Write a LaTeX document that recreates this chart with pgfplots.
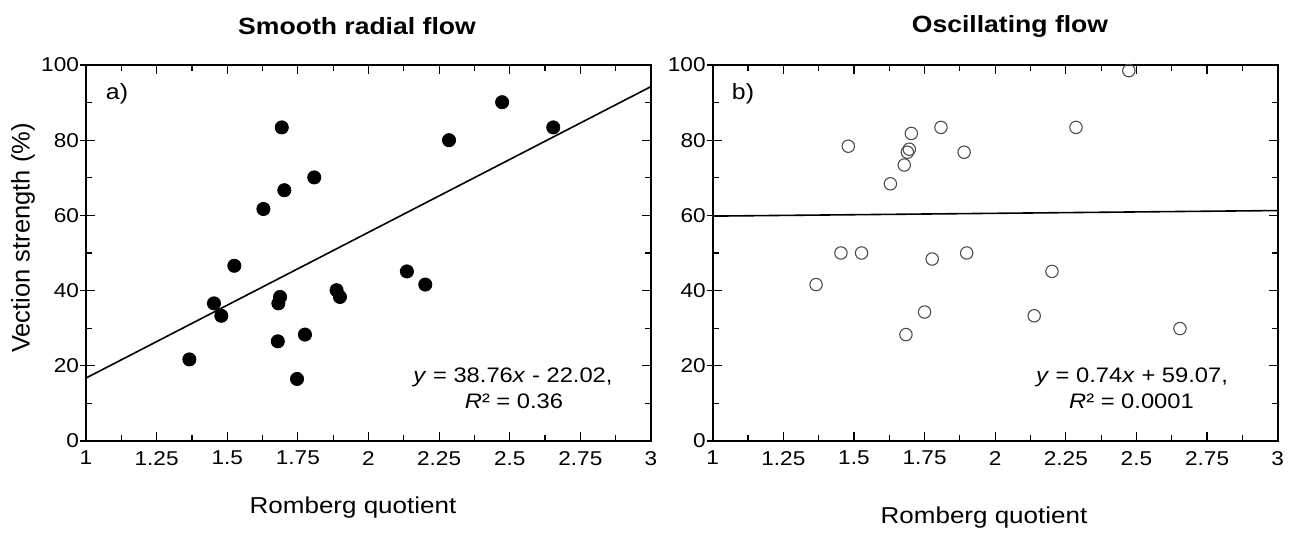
\documentclass[border=0pt]{standalone}
\usepackage{fontspec}
\setmainfont{Liberation Sans}[FakeStretch=1.13]
\newfontfamily\ylabfont{Liberation Sans}
\usepackage{pgfplots}
\pgfplotsset{compat=1.18}
\pgfplotstableread{
x y
1.366 21.7
1.453 36.6
1.479 33.3
1.525 46.6
1.628 61.7
1.693 83.4
1.702 66.7
1.808 70.1
1.687 38.3
1.681 36.6
1.679 26.5
1.775 28.3
1.747 16.5
1.887 40.1
1.899 38.3
2.136 45.1
2.201 41.6
2.285 80.0
2.473 90.1
2.654 83.4
}\smoothdata
\pgfplotstableread{
x y
1.366 41.6
1.454 50.0
1.527 50.0
1.480 78.4
1.629 68.4
1.678 73.4
1.689 76.8
1.696 77.6
1.703 81.8
1.808 83.4
1.890 76.8
1.777 48.4
1.750 34.3
1.684 28.3
1.899 50.0
2.138 33.3
2.201 45.1
2.286 83.4
2.473 98.5
2.654 29.9
}\oscdata
\pgfplotsset{
  panel/.style={
    width=282.5pt, height=188pt, scale only axis,
    xmin=1, xmax=3, ymin=0, ymax=100,
    xtick={1,1.25,...,3}, ytick={0,20,...,100},
    xticklabels={1,1.25,1.5,1.75,2,2.25,2.5,2.75,3},
    minor x tick num=1, minor y tick num=1,
    tick align=inside,
    major tick length=4.5pt, minor tick length=3pt,
    axis line style={line width=1pt},
    every tick/.style={line width=0.6pt, black},
    tick label style={font=\fontsize{10}{12}\selectfont},
    xticklabel style={yshift=-1.5pt},
    /pgf/number format/assume math mode=true,
    clip=false,
  },
  outticks/.style={
    width=282.5pt, height=188pt, scale only axis,
    xmin=1, xmax=3, ymin=0, ymax=100,
    axis x line=none, axis y line*=left,
    axis line style={draw=none},
    ytick={0,20,...,100},
    yticklabels={,,,,,},
    minor y tick num=0,
    tick align=outside, major tick length=3pt,
    every tick/.style={line width=0.6pt, black},
  },
}
\begin{document}
\begin{tikzpicture}
\path (-43pt,-49pt) rectangle (605.5pt,220.5pt);
% left panel
\begin{axis}[panel, at={(0pt,0pt)}, anchor=origin]
\addplot[black, line width=0.8pt] coordinates {(1,16.74) (3,94.26)};
\addplot[only marks, mark=*, mark size=3.3pt, black] table[x=x,y=y] {\smoothdata};
\end{axis}
\begin{axis}[outticks, at={(0pt,0pt)}, anchor=origin]
\end{axis}
% right panel
\begin{axis}[panel, at={(313.35pt,0pt)}, anchor=origin]
\addplot[black, line width=0.8pt] coordinates {(1,59.81) (3,61.29)};
\addplot[only marks, mark=o, mark size=3.1pt, mark options={draw=black!70, line width=0.55pt, fill=white}] table[x=x,y=y] {\oscdata};
\end{axis}
\begin{axis}[outticks, at={(313.35pt,0pt)}, anchor=origin]
\end{axis}
% texts
\node[font=\bfseries\fontsize{11.75}{14}\selectfont] at (135.5pt,207.5pt) {Smooth radial flow};
\node[font=\bfseries\fontsize{11.75}{14}\selectfont] at (462pt,207.5pt) {Oscillating flow};
\node[font=\fontsize{11}{13}\selectfont] at (15.5pt,173.5pt) {a)};
\node[font=\fontsize{11}{13}\selectfont] at (328.5pt,173.5pt) {b)};
\node[font=\fontsize{10.5}{12}\selectfont] at (213.5pt,32pt) {\textit{y} = 38.76\textit{x} - 22.02,};
\node[font=\fontsize{10.5}{12}\selectfont] at (214pt,20pt) {\textit{R}² = 0.36};
\node[font=\fontsize{10.5}{12}\selectfont] at (523pt,32pt) {\textit{y} = 0.74\textit{x} + 59.07,};
\node[font=\fontsize{10.5}{12}\selectfont] at (522.75pt,20pt) {\textit{R}² = 0.0001};
\node[font=\ylabfont\fontsize{12.75}{15}\selectfont, rotate=90] at (-31.5pt,101.5pt) {Vection strength (\%)};
\node[font=\fontsize{11.5}{14}\selectfont] at (133.5pt,-33.5pt) {Romberg quotient};
\node[font=\fontsize{11.5}{14}\selectfont] at (449pt,-38.5pt) {Romberg quotient};
\end{tikzpicture}
\end{document}
